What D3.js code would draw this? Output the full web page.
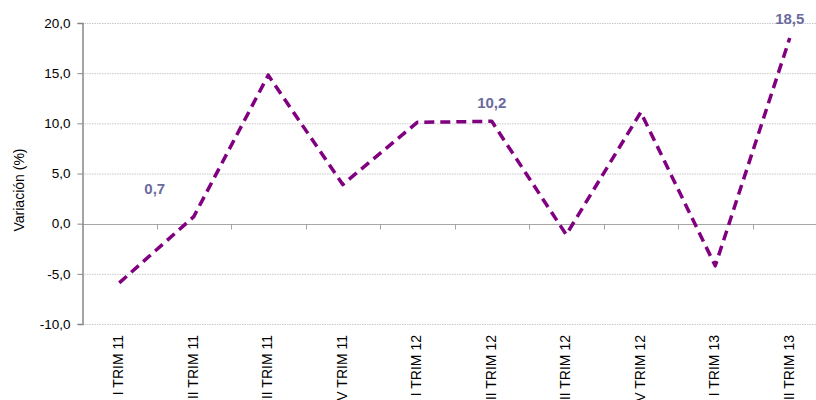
<!DOCTYPE html>
<html>
<head>
<meta charset="utf-8">
<script src="https://cdn.jsdelivr.net/npm/d3@7"></script>
<style>
  body { margin: 0; background: #fff; overflow: hidden; }
  svg { display: block; font-family: "Liberation Sans", Arial, sans-serif; }
</style>
</head>
<body>
<div id="wrapper"></div>
<script>
const categories = ["I TRIM 11", "II TRIM 11", "III TRIM 11", "IV TRIM 11", "I TRIM 12",
                    "II TRIM 12", "III TRIM 12", "IV TRIM 12", "I TRIM 13", "II TRIM 13"];
const values = [-5.9, 0.7, 14.8, 3.9, 10.1, 10.2, -1.1, 11.1, -4.2, 18.5];
const yTicks = [-10, -5, 0, 5, 10, 15, 20];
// which points carry a value label
const labelled = [1, 5, 9];

const dimension = {
    width: 816,
    height: 400,
    margin: { top: 23, left: 82, bottom: 76, right: 0 }
};
const bandStep = 74.5;

const fmt = (d) => d3.format(".1f")(d).replace(".", ",").replace("\u2212", "-");

const svg = d3.select("#wrapper").append("svg")
    .attr("width", dimension.width)
    .attr("height", dimension.height);

const xScaler = d3.scaleBand()
    .domain(categories)
    .range([dimension.margin.left, dimension.margin.left + bandStep * categories.length])
    .padding(0);

const yScaler = d3.scaleLinear()
    .domain([-10, 20])
    .range([dimension.height - dimension.margin.bottom, dimension.margin.top]);

const xCenter = (d) => xScaler(d) + xScaler.bandwidth() / 2;

// gridlines
svg.append("g").selectAll("line")
    .data(yTicks.filter(t => t !== 0))
    .join("line")
    .attr("x1", dimension.margin.left)
    .attr("x2", dimension.width)
    .attr("y1", d => yScaler(d) + 0.5)
    .attr("y2", d => yScaler(d) + 0.5)
    .attr("stroke", "#c8c8c8")
    .attr("stroke-width", 1)
    .attr("stroke-dasharray", "1.5,1");

// zero line with category ticks
const zeroY = Math.round(yScaler(0)) + 0.5;
svg.append("line")
    .attr("x1", dimension.margin.left)
    .attr("x2", dimension.width)
    .attr("y1", zeroY).attr("y2", zeroY)
    .attr("stroke", "#a6a6a6");
svg.append("g").selectAll("line")
    .data(categories.slice(1))
    .join("line")
    .attr("x1", d => Math.round(xScaler(d)) + 0.5)
    .attr("x2", d => Math.round(xScaler(d)) + 0.5)
    .attr("y1", zeroY)
    .attr("y2", zeroY + 5)
    .attr("stroke", "#a6a6a6");

// y axis
const yAxis = d3.axisLeft(yScaler)
    .tickValues(yTicks)
    .tickSize(5)
    .tickPadding(7)
    .tickFormat(fmt);
const gy = svg.append("g")
    .attr("transform", `translate(${dimension.margin.left + 0.5},0)`)
    .call(yAxis);
gy.select(".domain").attr("stroke", "#868686").attr("stroke-width", 1.5);
gy.selectAll(".tick line").attr("stroke", "#868686");
gy.selectAll(".tick text")
    .style("font-size", "13.5px")
    .attr("fill", "#000");

// x labels (rotated, clipped at the bottom of the page like the original)
svg.append("g").selectAll("text")
    .data(categories)
    .join("text")
    .attr("transform", d => `translate(${xCenter(d) + 4},${yScaler(-10) + 11}) rotate(-90)`)
    .attr("text-anchor", "end")
    .style("font-size", "14px")
    .attr("fill", "#000")
    .text(d => d);

// y title
svg.append("text")
    .attr("transform", "translate(24,190) rotate(-90)")
    .attr("text-anchor", "middle")
    .style("font-size", "14px")
    .attr("fill", "#000")
    .text("Variación (%)");

// the line
const lineGenerator = d3.line()
    .x((d, i) => xCenter(categories[i]))
    .y(d => yScaler(d));

svg.append("path")
    .attr("d", lineGenerator(values))
    .attr("fill", "none")
    .attr("stroke", "#800080")
    .attr("stroke-width", 3.5)
    .attr("stroke-dasharray", "10,6")
    .attr("stroke-linejoin", "round");

// data labels
const labelOffset = [[-39, -23], [0, -13], [0, -14]];
svg.append("g").selectAll("text")
    .data(labelled)
    .join("text")
    .attr("x", (d, i) => xCenter(categories[d]) + labelOffset[i][0])
    .attr("y", (d, i) => yScaler(values[d]) + labelOffset[i][1])
    .attr("text-anchor", "middle")
    .style("font-size", "15px")
    .style("font-weight", "bold")
    .attr("fill", "#6b6b9e")
    .text(d => fmt(values[d]));
</script>
</body>
</html>
